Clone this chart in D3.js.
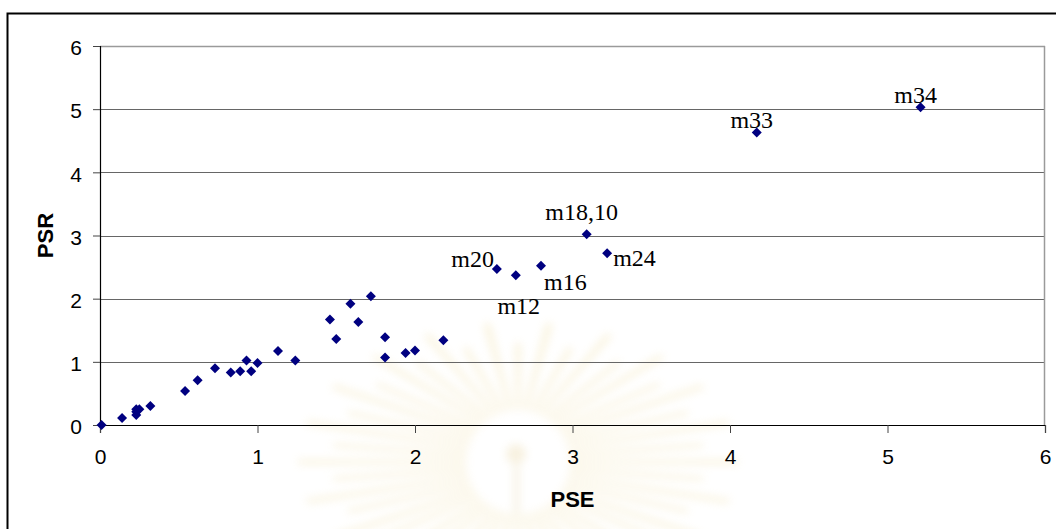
<!DOCTYPE html>
<html>
<head>
<meta charset="utf-8">
<script src="https://cdn.jsdelivr.net/npm/d3@7"></script>
<style>
  html, body { margin: 0; padding: 0; background: #fff; }
  svg { display: block; }
</style>
</head>
<body>
<svg id="chart" width="1056" height="529"></svg>
<script>
// PSE / PSR values per module
const pse = [0.01, 0.14, 0.23, 0.23, 0.23, 0.25, 0.32, 0.54, 0.62, 0.73, 0.83, 0.89, 0.93, 0.96, 1.00,
             1.13, 1.24, 1.46, 1.50, 1.59, 1.64, 1.72, 1.81, 1.81, 1.94, 2.00, 2.18,
             2.52, 2.64, 2.80, 3.09, 3.22, 4.17, 5.21];
const psr = [0.00, 0.11, 0.16, 0.21, 0.25, 0.25, 0.30, 0.54, 0.71, 0.90, 0.83, 0.85, 1.02, 0.85, 0.98,
             1.17, 1.02, 1.67, 1.36, 1.92, 1.63, 2.04, 1.39, 1.07, 1.14, 1.18, 1.34,
             2.47, 2.37, 2.52, 3.02, 2.72, 4.63, 5.03];
const names = ["", "", "", "", "", "", "", "", "", "", "", "", "", "", "",
               "", "", "", "", "", "", "", "", "", "", "", "",
               "m20", "m12", "m16", "m18,10", "m24", "m33", "m34"];
const xTicks = [0, 1, 2, 3, 4, 5, 6];
const yTicks = [0, 1, 2, 3, 4, 5, 6];
const xTitle = "PSE";
const yTitle = "PSR";

// where each data label sits relative to its marker
const labelPlacement = {
  "m20":    { anchor: "end",    dx: -3, dy: -2 },
  "m12":    { anchor: "middle", dx: 3,  dy: 39 },
  "m16":    { anchor: "start",  dx: 3,  dy: 24 },
  "m18,10": { anchor: "middle", dx: -5, dy: -14 },
  "m24":    { anchor: "start",  dx: 6,  dy: 13 },
  "m33":    { anchor: "middle", dx: -5, dy: -5 },
  "m34":    { anchor: "middle", dx: -5, dy: -4 }
};

const sansFont = "'Liberation Sans', Arial, sans-serif";
const serifFont = "'Liberation Serif', 'Times New Roman', serif";

const svg = d3.select("#chart");
const plot = { left: 100, right: 1045, top: 46, bottom: 425 };

const x = d3.scaleLinear().domain([0, 6]).range([plot.left, plot.right]);
const y = d3.scaleLinear().domain([0, 6]).range([plot.bottom, plot.top]);

// faint emblem in the background
const defs = svg.append("defs");
defs.append("filter").attr("id", "soft").attr("x", "-20%").attr("y", "-20%")
  .attr("width", "140%").attr("height", "140%")
  .append("feGaussianBlur").attr("stdDeviation", 4);

const emblem = svg.append("g").attr("filter", "url(#soft)").attr("opacity", 0.38)
  .attr("transform", "translate(518,462)");
const nRays = 44;
d3.range(nRays).forEach(i => {
  const a = (i / nRays) * 2 * Math.PI;
  const half = Math.PI / nRays * 0.55;
  const rIn = 52;
  const k = i % 2 ? 0.85 : 1;
  const rx = 220 * k, ry = 140 * k;
  const p = [
    [Math.cos(a - half) * rIn, Math.sin(a - half) * rIn],
    [Math.cos(a - half * 0.4) * rx, Math.sin(a - half * 0.4) * ry],
    [Math.cos(a + half * 0.4) * rx, Math.sin(a + half * 0.4) * ry],
    [Math.cos(a + half) * rIn, Math.sin(a + half) * rIn]
  ];
  emblem.append("path")
    .attr("d", "M" + p.map(q => q.join(",")).join("L") + "Z")
    .attr("fill", "#f0dfa6");
});
emblem.append("circle").attr("cx", -2).attr("cy", -8).attr("r", 10).attr("fill", "#ecdcb0");
emblem.append("rect").attr("x", -5).attr("y", 2).attr("width", 7).attr("height", 50).attr("fill", "#efe4c6");

// outer frame
svg.append("rect")
  .attr("x", 7.5).attr("y", 13.5).attr("width", 1200).attr("height", 700)
  .attr("fill", "none").attr("stroke", "#000").attr("stroke-width", 2);

// horizontal gridlines
svg.append("g").selectAll("line")
  .data(yTicks.filter(t => t > 0))
  .join("line")
  .attr("x1", plot.left).attr("x2", plot.right)
  .attr("y1", d => Math.round(y(d)) + 0.5).attr("y2", d => Math.round(y(d)) + 0.5)
  .attr("stroke", d => d === 6 ? "#9a9a9a" : "#666")
  .attr("stroke-width", d => d === 6 ? 1.5 : 1);

// right edge of plot area
svg.append("line")
  .attr("x1", plot.right - 0.5).attr("x2", plot.right - 0.5)
  .attr("y1", plot.top).attr("y2", plot.bottom)
  .attr("stroke", "#9a9a9a").attr("stroke-width", 1.5);

// x axis
const xAxis = d3.axisBottom(x).tickValues(xTicks).tickSize(8).tickPadding(16)
  .tickFormat(d3.format("d"));
const gx = svg.append("g").attr("transform", `translate(0,${plot.bottom})`).call(xAxis);
gx.select(".domain").attr("stroke", "#000").attr("stroke-width", 1.2);
gx.selectAll(".tick line").attr("stroke", "#444");
gx.selectAll("text").attr("font-family", sansFont)
  .attr("font-size", 21).attr("fill", "#000").attr("dy", "0.71em");

// y axis
const yAxis = d3.axisLeft(y).tickValues(yTicks).tickSize(7).tickPadding(11)
  .tickFormat(d3.format("d"));
const gy = svg.append("g").attr("transform", `translate(${plot.left},0)`).call(yAxis);
gy.select(".domain").attr("stroke", "#000").attr("stroke-width", 1.2);
gy.selectAll(".tick line").attr("stroke", "#444");
gy.selectAll("text").attr("font-family", sansFont)
  .attr("font-size", 21).attr("fill", "#000").attr("dy", "0.42em");

// axis titles
svg.append("text")
  .attr("x", (plot.left + plot.right) / 2).attr("y", 507)
  .attr("text-anchor", "middle")
  .attr("font-family", sansFont)
  .attr("font-weight", "bold").attr("font-size", 22)
  .text(xTitle);
svg.append("text")
  .attr("transform", `translate(53,${(plot.top + plot.bottom) / 2}) rotate(-90)`)
  .attr("text-anchor", "middle")
  .attr("font-family", sansFont)
  .attr("font-weight", "bold").attr("font-size", 22)
  .text(yTitle);

// markers: diamonds
const points = pse.map((v, i) => ({ x: v, y: psr[i], name: names[i] }));
const diamond = d3.symbol().type(d3.symbolSquare).size(50);
svg.append("g").selectAll("path")
  .data(points)
  .join("path")
  .attr("d", diamond)
  .attr("transform", d => `translate(${x(d.x)},${y(d.y)}) rotate(45)`)
  .attr("fill", "#000080");

// data labels
svg.append("g").selectAll("text")
  .data(points.filter(d => d.name))
  .join("text")
  .attr("x", d => x(d.x) + labelPlacement[d.name].dx)
  .attr("y", d => y(d.y) + labelPlacement[d.name].dy)
  .attr("text-anchor", d => labelPlacement[d.name].anchor)
  .attr("font-family", serifFont)
  .attr("font-size", 24)
  .attr("fill", "#000")
  .text(d => d.name);
</script>
</body>
</html>
